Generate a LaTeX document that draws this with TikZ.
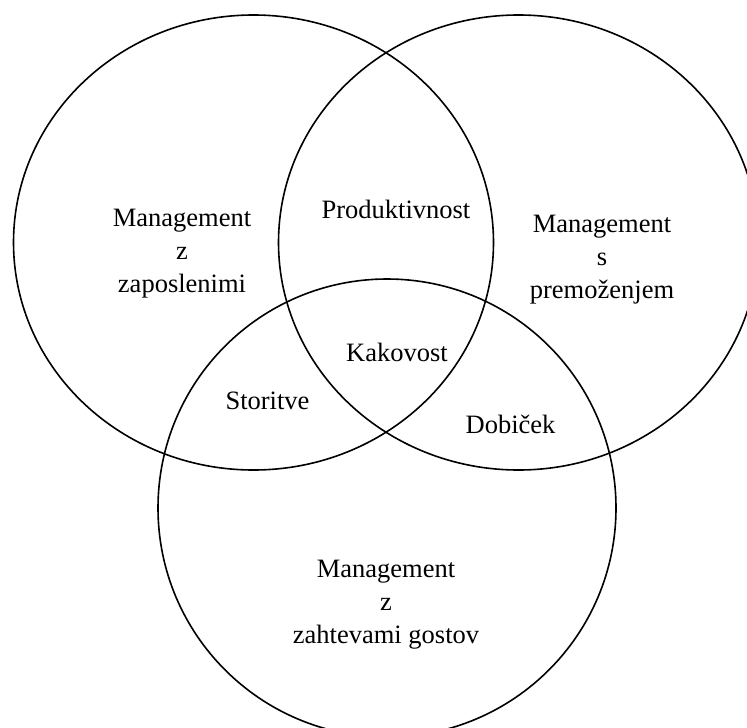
\documentclass[tikz,border=0pt]{standalone}
\usepackage{fontspec}
\setmainfont{Liberation Serif}
\usepackage{tikz}
\usetikzlibrary{positioning}

\begin{document}
\begin{tikzpicture}[
    x=1pt, y=-1pt,
    set/.style={draw=black, line width=1.6pt},
    label/.style={align=center, inner sep=0pt, font=\fontsize{26.5pt}{33pt}\selectfont}
]
    \clip (0,0) rectangle (747,728);

    % the three sets
    \draw[set] (253.5,242.5) ellipse [x radius=240, y radius=227.5];
    \draw[set] (518.5,242.5) ellipse [x radius=240, y radius=227.5];
    \draw[set] (387,508) circle [radius=229];

    \node[label] (staff) at (182,254) {Management \\ z \\ zaposlenimi};
    \node[label] (assets) at (602,260) {Management \\ s \\ premoženjem};
    \node[label] (guests) at (386,605) {Management \\ z \\ zahtevami gostov};

    \node[label, anchor=base] (prod) at (396,218) {Produktivnost};
    \node[label, anchor=base] (quality) at (397,361) {Kakovost};
    \node[label, anchor=base] (service) at (267.5,409) {Storitve};
    \node[label, anchor=base] (profit) at (510.5,433) {Dobiček};
\end{tikzpicture}
\end{document}
